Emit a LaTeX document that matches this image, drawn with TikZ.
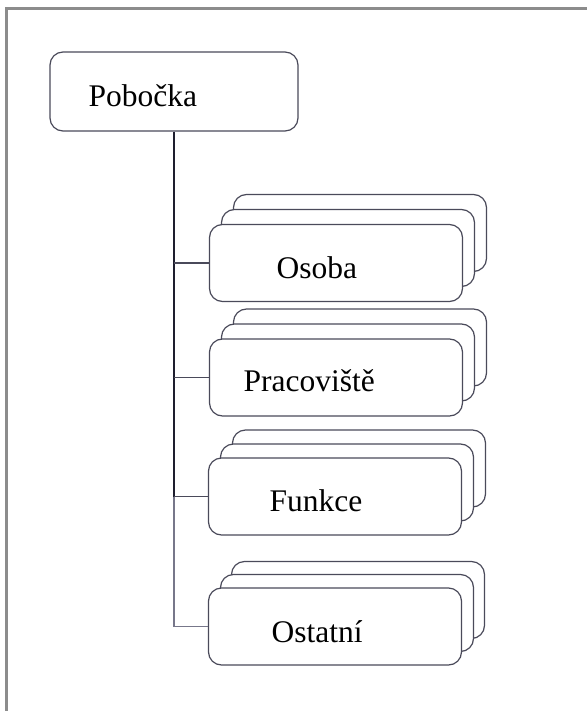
\documentclass[tikz,border=0pt]{standalone}
\usepackage{fontspec}
\setmainfont{Liberation Serif}
\definecolor{boxline}{HTML}{4A4A5A}
\definecolor{trunkline}{HTML}{1E1E2E}
\definecolor{trunklight}{HTML}{77778A}
\definecolor{frameline}{HTML}{8C8C8C}
\begin{document}
\begin{tikzpicture}[x=1pt, y=-1pt, line width=1.2pt,
  box/.style={rectangle, rounded corners=13pt, draw=boxline, fill=white, minimum width=253pt, minimum height=77pt, inner sep=0pt},
  caption/.style={anchor=base west, inner sep=0pt, font=\fontsize{31.5}{36}\selectfont}]
\useasboundingbox (0,0) rectangle (587,711);
\draw[frameline, line width=2.5pt] (6.5,711) -- (6.5,8.5) -- (587,8.5);
\begin{scope}
\node[box, minimum width=248pt, minimum height=79pt] (pobocka) at (174,91.5) {};
\node[box] (osoba3) at (360,233) {};
\node[box] (osoba2) at (348,248) {};
\node[box] (osoba) at (336,263) {};
\node[box] (pracoviste3) at (360,347.5) {};
\node[box] (pracoviste2) at (348,362.5) {};
\node[box] (pracoviste) at (336,377.5) {};
\node[box] (funkce3) at (359,468.5) {};
\node[box] (funkce2) at (347,482.5) {};
\node[box] (funkce) at (335,496.5) {};
\node[box] (ostatni3) at (358,600) {};
\node[box] (ostatni2) at (347,613) {};
\node[box] (ostatni) at (335,626.5) {};
\end{scope}
\begin{scope}[every node/.style={caption}]
\node (pobocka-t) at (88,107) {Pobočka};
\node (osoba-t) at (276,278) {Osoba};
\node (pracoviste-t) at (243,391) {Pracoviště};
\node (funkce-t) at (269,511) {Funkce};
\node (ostatni-t) at (271,642) {Ostatní};
\end{scope}
\begin{scope}[draw=boxline]
\draw[trunkline] (pobocka.south) -- (pobocka.south |- funkce.west);
\draw[trunklight] (pobocka.south |- funkce.west) |- (ostatni.west);
\draw (pobocka.south |- osoba.west) -- (osoba.west);
\draw (pobocka.south |- pracoviste.west) -- (pracoviste.west);
\draw (pobocka.south |- funkce.west) -- (funkce.west);
\end{scope}
\end{tikzpicture}
\end{document}
